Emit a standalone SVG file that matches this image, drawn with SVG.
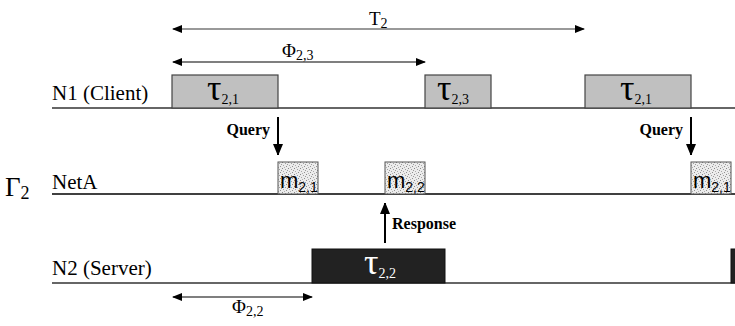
<svg xmlns="http://www.w3.org/2000/svg" width="735" height="326" viewBox="0 0 735 326">
<defs>
<pattern id="dots" width="6" height="6" patternUnits="userSpaceOnUse">
<rect width="6" height="6" fill="#ececec"/>
<rect x="0" y="0" width="1" height="1" fill="#8a8a8a"/>
<rect x="3" y="1" width="1" height="1" fill="#a0a0a0"/>
<rect x="5" y="2" width="1" height="1" fill="#999"/>
<rect x="1" y="3" width="1" height="1" fill="#aaa"/>
<rect x="4" y="4" width="1" height="1" fill="#909090"/>
<rect x="2" y="5" width="1" height="1" fill="#b0b0b0"/>
</pattern>
<marker id="ah" markerWidth="10" markerHeight="8" refX="9" refY="4" orient="auto-start-reverse" markerUnits="userSpaceOnUse">
<path d="M0,0 L10,4 L0,8 Z" fill="#000"/>
</marker>
<marker id="ahv" markerWidth="10" markerHeight="12" refX="11" refY="5" orient="auto-start-reverse" markerUnits="userSpaceOnUse">
<path d="M0,0 L12,5 L0,10 Z" fill="#000"/>
</marker>
</defs>
<style>
.lbl{font-family:"Liberation Serif","Times New Roman",serif;font-size:21px;fill:#000}
.dl{font-family:"Liberation Serif","Times New Roman",serif;font-size:19px;fill:#000}
.bold{font-family:"Liberation Serif","Times New Roman",serif;font-size:16px;font-weight:bold;fill:#000}
.tau{font-family:"Liberation Serif","Times New Roman",serif;font-size:36px;fill:#000}
.sub{font-size:14px}
.msg{font-family:"Liberation Sans",Arial,sans-serif;font-size:22px;fill:#000}
.task{fill:#c0c0c0;stroke:#444;stroke-width:1.2}
.srv{fill:#222;stroke:#111;stroke-width:1}
.mbox{fill:url(#dots);stroke:#555;stroke-width:1}
.tl{stroke:#666;stroke-width:2;fill:none}
.dim{stroke:#000;stroke-width:1.2;fill:none}
.arr{stroke:#000;stroke-width:2;fill:none}
</style>

<g id="timelines">
<line class="tl" x1="52" y1="108" x2="735" y2="108"/>
<line x1="52" y1="194" x2="735" y2="194" stroke="#000" stroke-width="1.6"/>
<line class="tl" x1="52" y1="283" x2="735" y2="283"/>
</g>

<g id="labels">
<text class="lbl" x="52" y="100">N1 (Client)</text>
<text class="lbl" x="52" y="189">NetA</text>
<text class="lbl" x="52" y="275">N2 (Server)</text>
<text x="5" y="196" font-family="Liberation Serif, Times New Roman, serif" font-size="27">Γ<tspan font-size="18" dy="3">2</tspan></text>
</g>

<g id="tau21a">
<rect class="task" x="172" y="75" width="106" height="33"/>
<text class="tau" x="207" y="100">τ<tspan class="sub" dy="4">2,1</tspan></text>
</g>
<g id="tau23">
<rect class="task" x="425" y="75" width="66" height="33"/>
<text class="tau" x="437" y="100">τ<tspan class="sub" dy="4">2,3</tspan></text>
</g>
<g id="tau21b">
<rect class="task" x="585" y="75" width="106" height="33"/>
<text class="tau" x="620" y="100">τ<tspan class="sub" dy="4">2,1</tspan></text>
</g>

<g id="m21a">
<rect class="mbox" x="278" y="162" width="40" height="32"/>
<text class="msg" x="280" y="188">m<tspan class="sub" dy="4">2,1</tspan></text>
</g>
<g id="m22">
<rect class="mbox" x="385" y="162" width="40" height="32"/>
<text class="msg" x="387" y="188">m<tspan class="sub" dy="4">2,2</tspan></text>
</g>
<g id="m21b">
<rect class="mbox" x="691" y="162" width="40" height="32"/>
<text class="msg" x="693" y="188">m<tspan class="sub" dy="4">2,1</tspan></text>
</g>

<g id="tau22">
<rect class="srv" x="312" y="249" width="133" height="34"/>
<text class="tau" x="364" y="274" style="fill:#fff">τ<tspan class="sub" dy="4">2,2</tspan></text>
</g>
<g id="tau22b">
<rect class="srv" x="731" y="249" width="6" height="34"/>
</g>

<g id="connectors">
<line x1="173" y1="29" x2="584" y2="29" stroke="#777" stroke-width="1.6" marker-start="url(#ah)" marker-end="url(#ah)"/>
<line class="dim" x1="173" y1="62" x2="425" y2="62" marker-start="url(#ah)" marker-end="url(#ah)"/>
<line class="dim" x1="173" y1="297" x2="312" y2="297" marker-start="url(#ah)" marker-end="url(#ah)"/>
<line class="arr" x1="278" y1="117" x2="278" y2="155" marker-end="url(#ahv)"/>
<line class="arr" x1="691" y1="117" x2="691" y2="155" marker-end="url(#ahv)"/>
<line class="arr" x1="385" y1="243" x2="385" y2="203" marker-end="url(#ahv)"/>
</g>

<g id="connector-labels">
<text class="dl" x="369" y="25">T<tspan class="sub" dy="3">2</tspan></text>
<text class="dl" x="282" y="57">Φ<tspan class="sub" dy="3">2,3</tspan></text>
<text class="dl" x="232" y="313">Φ<tspan class="sub" dy="3">2,2</tspan></text>
<text class="bold" x="270" y="135" text-anchor="end">Query</text>
<text class="bold" x="683" y="135" text-anchor="end">Query</text>
<text class="bold" x="392" y="229">Response</text>
</g>
</svg>
